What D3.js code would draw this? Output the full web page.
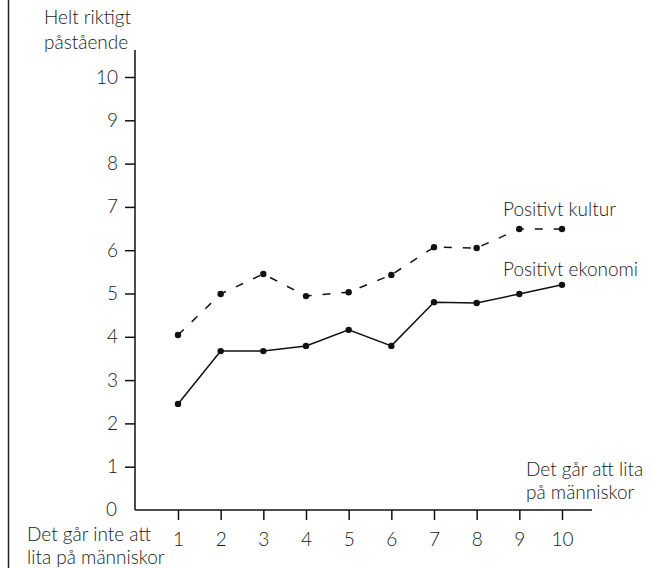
<!DOCTYPE html>
<html><head><meta charset="utf-8">
<script src="https://cdn.jsdelivr.net/npm/d3@7"></script>
<style>body{margin:0;background:#fff}text{font-family:Lato,"Open Sans",sans-serif;font-weight:300;fill:#1a1a1a}</style>
</head><body>
<script>
const xCats = [1,2,3,4,5,6,7,8,9,10];
const yTicks = [0,1,2,3,4,5,6,7,8,9,10];
const ekonomi = [2.45,3.67,3.67,3.79,4.16,3.79,4.8,4.78,4.99,5.2];
const kultur = [4.04,4.99,5.45,4.94,5.03,5.43,6.07,6.05,6.49,6.49];
const seriesNames = ["Positivt kultur","Positivt ekonomi"];

const W=651,H=568;
const svg=d3.select("body").append("svg").attr("width",W).attr("height",H);
const fs=19;
const x=d3.scaleLinear().domain([1,10]).range([178,562]);
const y=d3.scaleLinear().domain([0,10]).range([510,77]);

svg.append("line").attr("x1",8.5).attr("x2",8.5).attr("y1",0).attr("y2",H).attr("stroke","#222").attr("stroke-width",1.5);

// axes
svg.append("line").attr("x1",135).attr("x2",135).attr("y1",50).attr("y2",510).attr("stroke","#111").attr("stroke-width",1.5);
svg.append("line").attr("x1",135).attr("x2",592).attr("y1",510).attr("y2",510).attr("stroke","#111").attr("stroke-width",1.5);

const yAxis=svg.append("g").attr("transform","translate(135,0)")
 .call(d3.axisLeft(y).tickValues(yTicks.filter(d=>d>0)).tickSize(10).tickPadding(7).tickFormat(d=>d));
yAxis.select(".domain").remove();
yAxis.selectAll("line").attr("stroke","#111").attr("stroke-width",1.5);
yAxis.selectAll("text").attr("font-size",fs).style("font-family","Lato").style("font-weight",300).attr("fill","#1a1a1a");
svg.append("text").attr("x",117).attr("y",y(0)).attr("dy","0.32em").attr("text-anchor","end").attr("font-size",fs).text("0");

const xAxis=svg.append("g").attr("transform","translate(0,510)")
 .call(d3.axisBottom(x).tickValues(xCats).tickSize(10).tickPadding(13).tickFormat(d=>d));
xAxis.select(".domain").remove();
xAxis.selectAll("line").attr("stroke","#111").attr("stroke-width",1.5);
xAxis.selectAll("text").attr("font-size",fs).style("font-family","Lato").style("font-weight",300).attr("fill","#1a1a1a");

const line=d3.line().x((d,i)=>x(xCats[i])).y(d=>y(d));
svg.append("path").datum(kultur).attr("d",line).attr("fill","none").attr("stroke","#111").attr("stroke-width",1.5).attr("stroke-dasharray","8,11");
svg.append("path").datum(ekonomi).attr("d",line).attr("fill","none").attr("stroke","#111").attr("stroke-width",1.5);
[kultur,ekonomi].forEach(s=>{
  svg.append("g").selectAll("circle").data(s).join("circle")
   .attr("cx",(d,i)=>x(xCats[i])).attr("cy",d=>y(d)).attr("r",3.2).attr("fill","#111");
});

function txt(xx,yy,t,anchor){svg.append("text").attr("x",xx).attr("y",yy).attr("font-size",fs).attr("text-anchor",anchor||"start").text(t);}
txt(44,24,"Helt riktigt");
txt(44,49,"påstående");
txt(503,216,seriesNames[0]);
txt(503,276,seriesNames[1]);
txt(526,476,"Det går att lita");
txt(526,499,"på människor");
txt(27,541,"Det går inte att");
txt(27,564,"lita på människor");
</script>
</body></html>
